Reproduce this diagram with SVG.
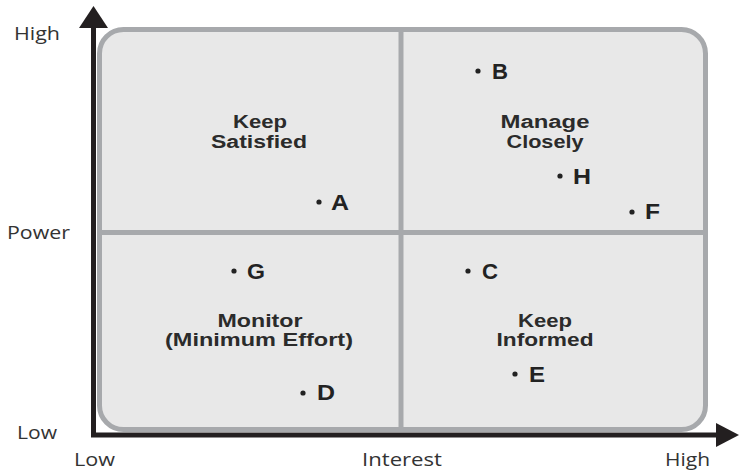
<svg xmlns="http://www.w3.org/2000/svg" width="739" height="471" viewBox="0 0 739 471">
<style>
.ax{font-family:"Open Sans","Liberation Sans",sans-serif;font-size:19px;fill:#333;}
.q{font-family:"Liberation Sans",Arial,sans-serif;font-size:18px;font-weight:bold;fill:#2b2b2b;text-anchor:middle;}
.pt{font-family:"Liberation Sans",Arial,sans-serif;font-size:22px;font-weight:bold;fill:#222;}
.dot{fill:#222;}
</style>
<rect width="739" height="471" fill="#fff"/>
<g id="grid">
<rect x="99.5" y="29.5" width="606" height="400" rx="24" ry="24" fill="#e8e8e8" stroke="#a7a9ac" stroke-width="5"/>
<line x1="401" y1="29.5" x2="401" y2="429.5" stroke="#a7a9ac" stroke-width="5"/>
<line x1="99.5" y1="232.5" x2="705.5" y2="232.5" stroke="#a7a9ac" stroke-width="5"/>
</g>
<g id="axes">
<path d="M93.5 26 V435 H718" fill="none" stroke="#231f20" stroke-width="5" stroke-linejoin="miter"/>
<polygon points="79,28 93.5,6 108,28" fill="#231f20"/>
<polygon points="716,423 739,435 716,447" fill="#231f20"/>
</g>
<g id="axis-labels">
<text class="ax" x="14" y="40" textLength="46" lengthAdjust="spacingAndGlyphs">High</text>
<text class="ax" x="7" y="239" textLength="63" lengthAdjust="spacingAndGlyphs">Power</text>
<text class="ax" x="17" y="439" textLength="40" lengthAdjust="spacingAndGlyphs">Low</text>
<text class="ax" x="74" y="466" textLength="41" lengthAdjust="spacingAndGlyphs">Low</text>
<text class="ax" x="362" y="466" textLength="80" lengthAdjust="spacingAndGlyphs">Interest</text>
<text class="ax" x="665" y="466" textLength="45" lengthAdjust="spacingAndGlyphs">High</text>
</g>
<g id="q-keep-satisfied">
<text class="q" x="260" y="128" textLength="54" lengthAdjust="spacingAndGlyphs">Keep</text>
<text class="q" x="259" y="148" textLength="96" lengthAdjust="spacingAndGlyphs">Satisfied</text>
</g>
<g id="q-manage-closely">
<text class="q" x="545" y="128" textLength="89" lengthAdjust="spacingAndGlyphs">Manage</text>
<text class="q" x="545" y="148" textLength="77" lengthAdjust="spacingAndGlyphs">Closely</text>
</g>
<g id="q-monitor">
<text class="q" x="260" y="327" textLength="85" lengthAdjust="spacingAndGlyphs">Monitor</text>
<text class="q" x="259" y="346" textLength="188" lengthAdjust="spacingAndGlyphs">(Minimum Effort)</text>
</g>
<g id="q-keep-informed">
<text class="q" x="545" y="327" textLength="54" lengthAdjust="spacingAndGlyphs">Keep</text>
<text class="q" x="545" y="346" textLength="97" lengthAdjust="spacingAndGlyphs">Informed</text>
</g>
<g id="A"><circle class="dot" cx="319" cy="202" r="2.6"/><text class="pt" x="331" y="210" textLength="18" lengthAdjust="spacingAndGlyphs">A</text></g>
<g id="B"><circle class="dot" cx="478" cy="71" r="2.6"/><text class="pt" x="492" y="79" textLength="16" lengthAdjust="spacingAndGlyphs">B</text></g>
<g id="H"><circle class="dot" cx="560" cy="176" r="2.6"/><text class="pt" x="573" y="184" textLength="18" lengthAdjust="spacingAndGlyphs">H</text></g>
<g id="F"><circle class="dot" cx="632" cy="212" r="2.6"/><text class="pt" x="645" y="219" textLength="15" lengthAdjust="spacingAndGlyphs">F</text></g>
<g id="G"><circle class="dot" cx="234" cy="271" r="2.6"/><text class="pt" x="247" y="279" textLength="18" lengthAdjust="spacingAndGlyphs">G</text></g>
<g id="C"><circle class="dot" cx="468" cy="271" r="2.6"/><text class="pt" x="482" y="279" textLength="16" lengthAdjust="spacingAndGlyphs">C</text></g>
<g id="E"><circle class="dot" cx="515" cy="374" r="2.6"/><text class="pt" x="529" y="382" textLength="16" lengthAdjust="spacingAndGlyphs">E</text></g>
<g id="D"><circle class="dot" cx="303" cy="393" r="2.6"/><text class="pt" x="317" y="400" textLength="18" lengthAdjust="spacingAndGlyphs">D</text></g>
</svg>
